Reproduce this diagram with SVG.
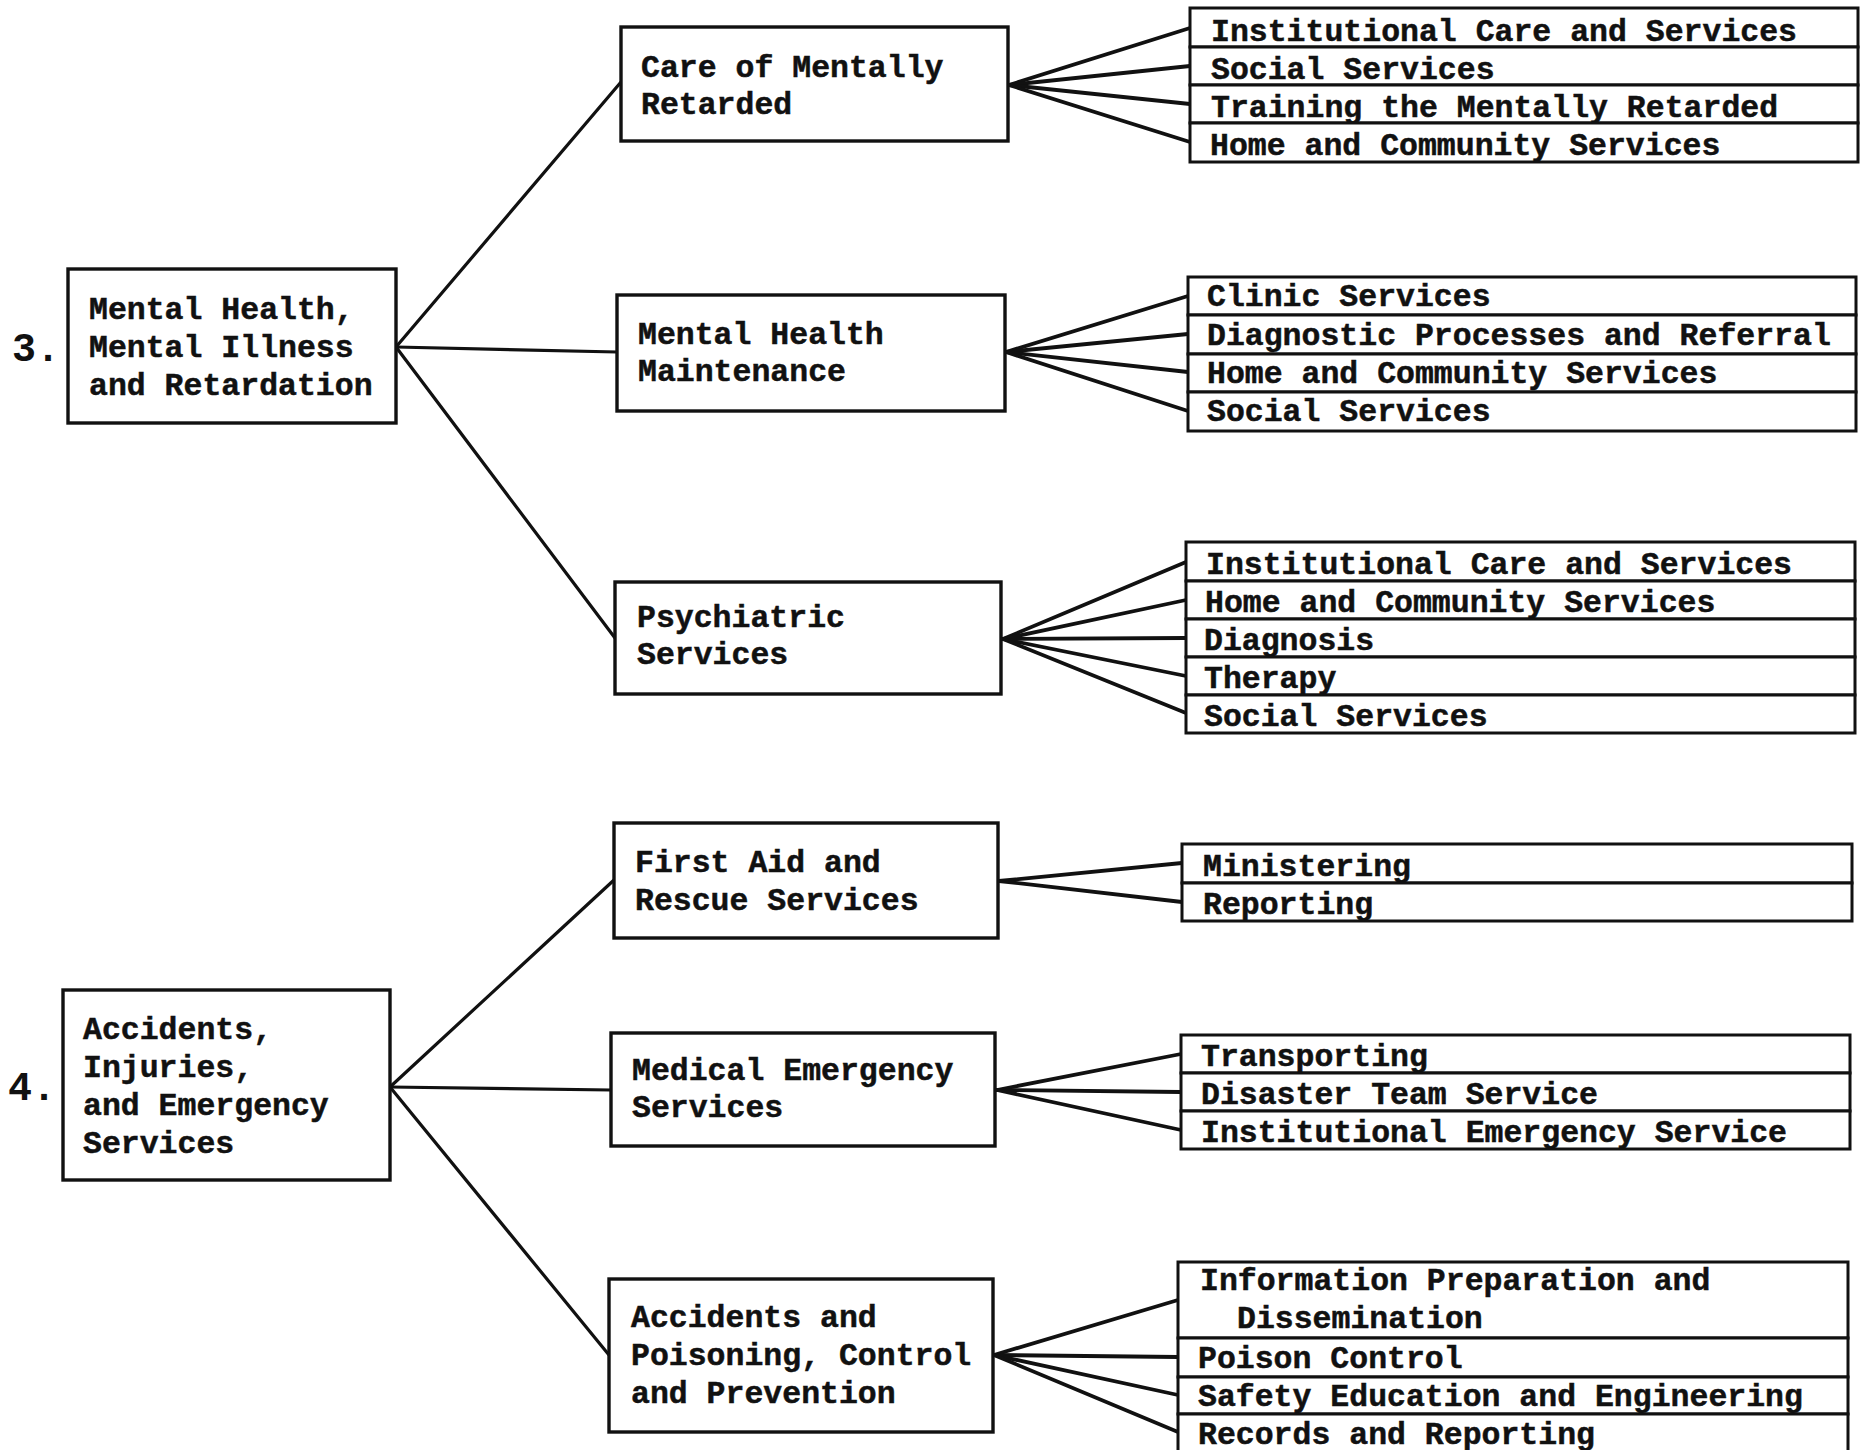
<svg xmlns="http://www.w3.org/2000/svg" width="1869" height="1450" viewBox="0 0 1869 1450">
  <style>
    .bg { fill: #ffffff; }
    .box { fill: #ffffff; stroke: #111111; stroke-width: 3.4; }
    .cell { fill: #ffffff; stroke: #111111; stroke-width: 3; }
    .lbl { font-family: "Liberation Mono", "DejaVu Sans Mono", monospace; font-weight: bold; font-size: 31.5px; fill: #111111; stroke: #111111; stroke-width: 0.5; }
    .num { font-family: "Liberation Mono", "DejaVu Sans Mono", monospace; font-weight: bold; font-size: 40px; fill: #111111; }
    .link { fill: none; stroke: #111111; stroke-width: 3.2; stroke-linecap: round; }
    .fan { fill: none; stroke: #111111; stroke-width: 3.8; stroke-linecap: round; }
  </style>
  <rect class="bg" x="0" y="0" width="1869" height="1450"/>

  <!-- connectors -->
  <g id="connectors">
    <!-- section 3 -->
    <line class="link" x1="396" y1="347" x2="621" y2="82"/>
    <line class="link" x1="396" y1="347" x2="617" y2="352"/>
    <line class="link" x1="396" y1="347" x2="615" y2="638"/>
    <line class="fan" x1="1009" y1="85" x2="1190" y2="28"/>
    <line class="fan" x1="1009" y1="85" x2="1190" y2="66"/>
    <line class="fan" x1="1009" y1="85" x2="1190" y2="104"/>
    <line class="fan" x1="1009" y1="85" x2="1190" y2="142"/>
    <line class="fan" x1="1006" y1="352" x2="1188" y2="296"/>
    <line class="fan" x1="1006" y1="352" x2="1188" y2="334"/>
    <line class="fan" x1="1006" y1="352" x2="1188" y2="372"/>
    <line class="fan" x1="1006" y1="352" x2="1188" y2="411"/>
    <line class="fan" x1="1003" y1="639" x2="1186" y2="562"/>
    <line class="fan" x1="1003" y1="639" x2="1186" y2="600"/>
    <line class="fan" x1="1003" y1="639" x2="1186" y2="638"/>
    <line class="fan" x1="1003" y1="639" x2="1186" y2="676"/>
    <line class="fan" x1="1003" y1="639" x2="1186" y2="713"/>
    <!-- section 4 -->
    <line class="link" x1="390" y1="1087" x2="614" y2="880"/>
    <line class="link" x1="390" y1="1087" x2="611" y2="1090"/>
    <line class="link" x1="390" y1="1087" x2="609" y2="1355"/>
    <line class="fan" x1="999" y1="881" x2="1182" y2="863"/>
    <line class="fan" x1="999" y1="881" x2="1182" y2="902"/>
    <line class="fan" x1="997" y1="1090" x2="1181" y2="1054"/>
    <line class="fan" x1="997" y1="1090" x2="1181" y2="1092"/>
    <line class="fan" x1="997" y1="1090" x2="1181" y2="1130"/>
    <line class="fan" x1="994" y1="1355" x2="1178" y2="1300"/>
    <line class="fan" x1="994" y1="1355" x2="1178" y2="1357"/>
    <line class="fan" x1="994" y1="1355" x2="1178" y2="1395"/>
    <line class="fan" x1="994" y1="1355" x2="1178" y2="1432"/>
  </g>

  <!-- section numbers -->
  <text class="num" x="12" y="361">3.</text>
  <text class="num" x="8" y="1100">4.</text>

  <!-- top-level areas -->
  <g id="n3">
    <rect class="box" x="68" y="269" width="328" height="154"/>
    <text class="lbl" x="89" y="319">Mental Health,</text>
    <text class="lbl" x="89" y="357">Mental Illness</text>
    <text class="lbl" x="89" y="395">and Retardation</text>
  </g>
  <g id="n4">
    <rect class="box" x="63" y="990" width="327" height="190"/>
    <text class="lbl" x="83" y="1039">Accidents,</text>
    <text class="lbl" x="83" y="1077">Injuries,</text>
    <text class="lbl" x="83" y="1115">and Emergency</text>
    <text class="lbl" x="83" y="1153">Services</text>
  </g>

  <!-- second level -->
  <g id="n3-care">
    <rect class="box" x="621" y="27" width="387" height="114"/>
    <text class="lbl" x="641" y="77">Care of Mentally</text>
    <text class="lbl" x="641" y="114">Retarded</text>
  </g>
  <g id="n3-maint">
    <rect class="box" x="617" y="295" width="388" height="116"/>
    <text class="lbl" x="638" y="344">Mental Health</text>
    <text class="lbl" x="638" y="381">Maintenance</text>
  </g>
  <g id="n3-psych">
    <rect class="box" x="615" y="582" width="386" height="112"/>
    <text class="lbl" x="637" y="627">Psychiatric</text>
    <text class="lbl" x="637" y="664">Services</text>
  </g>
  <g id="n4-firstaid">
    <rect class="box" x="614" y="823" width="384" height="115"/>
    <text class="lbl" x="635" y="872">First Aid and</text>
    <text class="lbl" x="635" y="910">Rescue Services</text>
  </g>
  <g id="n4-medical">
    <rect class="box" x="611" y="1033" width="384" height="113"/>
    <text class="lbl" x="632" y="1080">Medical Emergency</text>
    <text class="lbl" x="632" y="1117">Services</text>
  </g>
  <g id="n4-poison">
    <rect class="box" x="609" y="1279" width="384" height="153"/>
    <text class="lbl" x="631" y="1327">Accidents and</text>
    <text class="lbl" x="631" y="1365">Poisoning, Control</text>
    <text class="lbl" x="631" y="1403">and Prevention</text>
  </g>

  <!-- third level: care of mentally retarded -->
  <g id="a1"><rect class="cell" x="1190" y="8" width="668" height="39"/><text class="lbl" x="1211" y="41">Institutional Care and Services</text></g>
  <g id="a2"><rect class="cell" x="1190" y="47" width="668" height="38"/><text class="lbl" x="1211" y="79">Social Services</text></g>
  <g id="a3"><rect class="cell" x="1190" y="85" width="668" height="38"/><text class="lbl" x="1211" y="117">Training the Mentally Retarded</text></g>
  <g id="a4"><rect class="cell" x="1190" y="123" width="668" height="39"/><text class="lbl" x="1210" y="155">Home and Community Services</text></g>

  <!-- third level: mental health maintenance -->
  <g id="b1"><rect class="cell" x="1188" y="277" width="668" height="38"/><text class="lbl" x="1207" y="306">Clinic Services</text></g>
  <g id="b2"><rect class="cell" x="1188" y="315" width="668" height="39"/><text class="lbl" x="1207" y="345">Diagnostic Processes and Referral</text></g>
  <g id="b3"><rect class="cell" x="1188" y="354" width="668" height="38"/><text class="lbl" x="1207" y="383">Home and Community Services</text></g>
  <g id="b4"><rect class="cell" x="1188" y="392" width="668" height="39"/><text class="lbl" x="1207" y="421">Social Services</text></g>

  <!-- third level: psychiatric services -->
  <g id="c1"><rect class="cell" x="1186" y="542" width="669" height="39"/><text class="lbl" x="1206" y="574">Institutional Care and Services</text></g>
  <g id="c2"><rect class="cell" x="1186" y="581" width="669" height="38"/><text class="lbl" x="1205" y="612">Home and Community Services</text></g>
  <g id="c3"><rect class="cell" x="1186" y="619" width="669" height="38"/><text class="lbl" x="1204" y="650">Diagnosis</text></g>
  <g id="c4"><rect class="cell" x="1186" y="657" width="669" height="38"/><text class="lbl" x="1204" y="688">Therapy</text></g>
  <g id="c5"><rect class="cell" x="1186" y="695" width="669" height="38"/><text class="lbl" x="1204" y="726">Social Services</text></g>

  <!-- third level: first aid and rescue -->
  <g id="d1"><rect class="cell" x="1182" y="844" width="670" height="39"/><text class="lbl" x="1203" y="876">Ministering</text></g>
  <g id="d2"><rect class="cell" x="1182" y="883" width="670" height="38"/><text class="lbl" x="1203" y="914">Reporting</text></g>

  <!-- third level: medical emergency -->
  <g id="e1"><rect class="cell" x="1181" y="1035" width="669" height="38"/><text class="lbl" x="1201" y="1066">Transporting</text></g>
  <g id="e2"><rect class="cell" x="1181" y="1073" width="669" height="38"/><text class="lbl" x="1201" y="1104">Disaster Team Service</text></g>
  <g id="e3"><rect class="cell" x="1181" y="1111" width="669" height="38"/><text class="lbl" x="1201" y="1142">Institutional Emergency Service</text></g>

  <!-- third level: accidents and poisoning -->
  <g id="f1"><rect class="cell" x="1178" y="1262" width="670" height="76"/><text class="lbl" x="1200" y="1290">Information Preparation and</text><text class="lbl" x="1237" y="1328">Dissemination</text></g>
  <g id="f2"><rect class="cell" x="1178" y="1338" width="670" height="39"/><text class="lbl" x="1198" y="1368">Poison Control</text></g>
  <g id="f3"><rect class="cell" x="1178" y="1377" width="670" height="37"/><text class="lbl" x="1198" y="1406">Safety Education and Engineering</text></g>
  <g id="f4"><rect class="cell" x="1178" y="1414" width="670" height="40"/><text class="lbl" x="1198" y="1444">Records and Reporting</text></g>
</svg>
